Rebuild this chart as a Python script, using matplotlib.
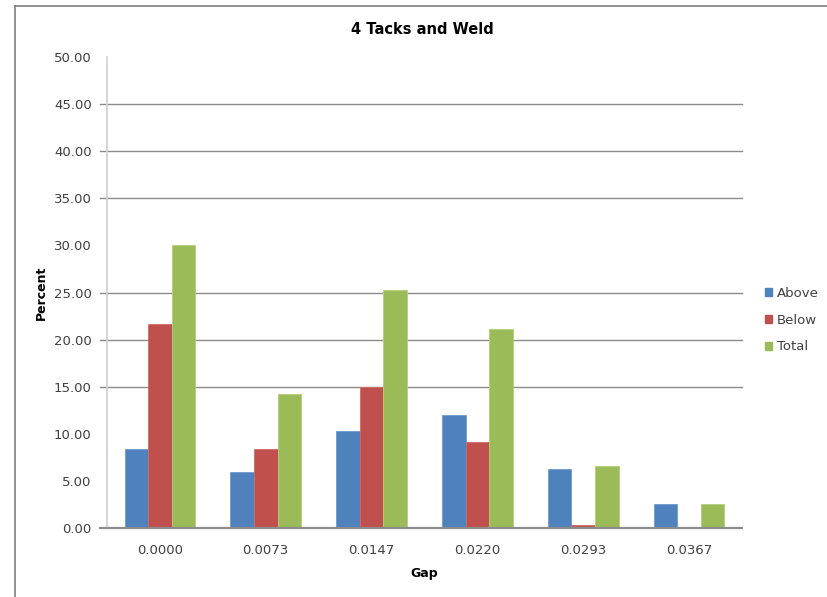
import matplotlib
matplotlib.use("Agg")
import matplotlib.pyplot as plt
import matplotlib.transforms as mtransforms
from matplotlib.lines import Line2D
from matplotlib.patches import Patch
import numpy as np

# Data
gaps = ["0.0000", "0.0073", "0.0147", "0.0220", "0.0293", "0.0367"]
above = [8.37, 5.88, 10.29, 11.93, 6.21, 2.48]
below = [21.67, 8.37, 15.00, 9.15, 0.33, 0.00]
total = [30.04, 14.25, 25.29, 21.08, 6.54, 2.48]
series_names = ["Above", "Below", "Total"]
colors = ["#4f81bd", "#c0504d", "#9bbb59"]
edge_colors = ["#6f9bd0", "#d06b68", "#b3d07a"]
yticks = [0, 5, 10, 15, 20, 25, 30, 35, 40, 45, 50]
grid_levels = [15, 20, 25, 35, 40, 45]

plt.rcParams["font.family"] = ["DejaVu Sans"]
text_color = "#404040"

fig = plt.figure(figsize=(8.28, 5.97), dpi=100)
ax = fig.add_axes([107 / 828, 1 - 527.7 / 597, (742 - 107) / 828, (527.7 - 57.3) / 597])

x = np.arange(len(gaps))
width = 1 / 4.5
for i, (vals, c, ec, name) in enumerate(zip([above, below, total], colors, edge_colors, series_names)):
    ax.bar(x + (i - 1) * width, vals, width, color=c, edgecolor=ec, linewidth=0.6,
           label=name, zorder=3)

ax.set_xlim(-0.5, len(gaps) - 0.5)
ax.set_ylim(0, 50)

# Horizontal gridlines with short outside tick stubs
trans = mtransforms.blended_transform_factory(ax.transAxes, ax.transData)
for g in grid_levels:
    ax.add_line(Line2D([-0.011, 1], [g, g], transform=trans, color="#8c8c8c",
                       linewidth=1.0, clip_on=False, zorder=1))
# Category axis line
ax.add_line(Line2D([-0.011, 1], [0, 0], transform=trans, color="#8c8c8c",
                   linewidth=1.6, clip_on=False, zorder=4))
# Value axis line
ax.add_line(Line2D([0, 0], [0, 50], transform=trans, color="#d0d0d0",
                   linewidth=1.2, clip_on=False, zorder=1))

for s in ax.spines.values():
    s.set_visible(False)

ax.set_yticks(yticks)
ax.set_yticklabels([f"{v:.2f}" for v in yticks])
ax.set_xticks(x)
ax.set_xticklabels(gaps)
ax.tick_params(axis="both", length=0, labelsize=9.5, colors=text_color)
ax.tick_params(axis="y", pad=11)
ax.tick_params(axis="x", pad=12)

ax.set_xlabel("Gap", fontsize=9, fontweight="bold", color="black", labelpad=7)
ax.set_ylabel("Percent", fontsize=9, fontweight="bold", color="black", labelpad=4)
fig.text(422 / 828, 1 - 29 / 597, "4 Tacks and Weld", ha="center", va="center",
         fontsize=10.5, fontweight="bold", color="black")

handles = [Patch(facecolor=c, edgecolor=c) for c in colors]
fig.legend(handles, series_names, loc="center left",
           bbox_to_anchor=(753 / 828, 1 - 320 / 597), frameon=False,
           fontsize=9.5, handlelength=0.55, handleheight=0.55, handletextpad=0.35,
           labelspacing=1.05, labelcolor=text_color)

# Outer chart frame (top and left edges)
fig.add_artist(Line2D([14.5 / 828, 14.5 / 828], [0, 1 - 6 / 597], transform=fig.transFigure,
                      color="#7f7f7f", linewidth=1.2))
fig.add_artist(Line2D([14.5 / 828, 1], [1 - 6 / 597, 1 - 6 / 597], transform=fig.transFigure,
                      color="#7f7f7f", linewidth=1.2))

fig.savefig("out.png", dpi=100)
